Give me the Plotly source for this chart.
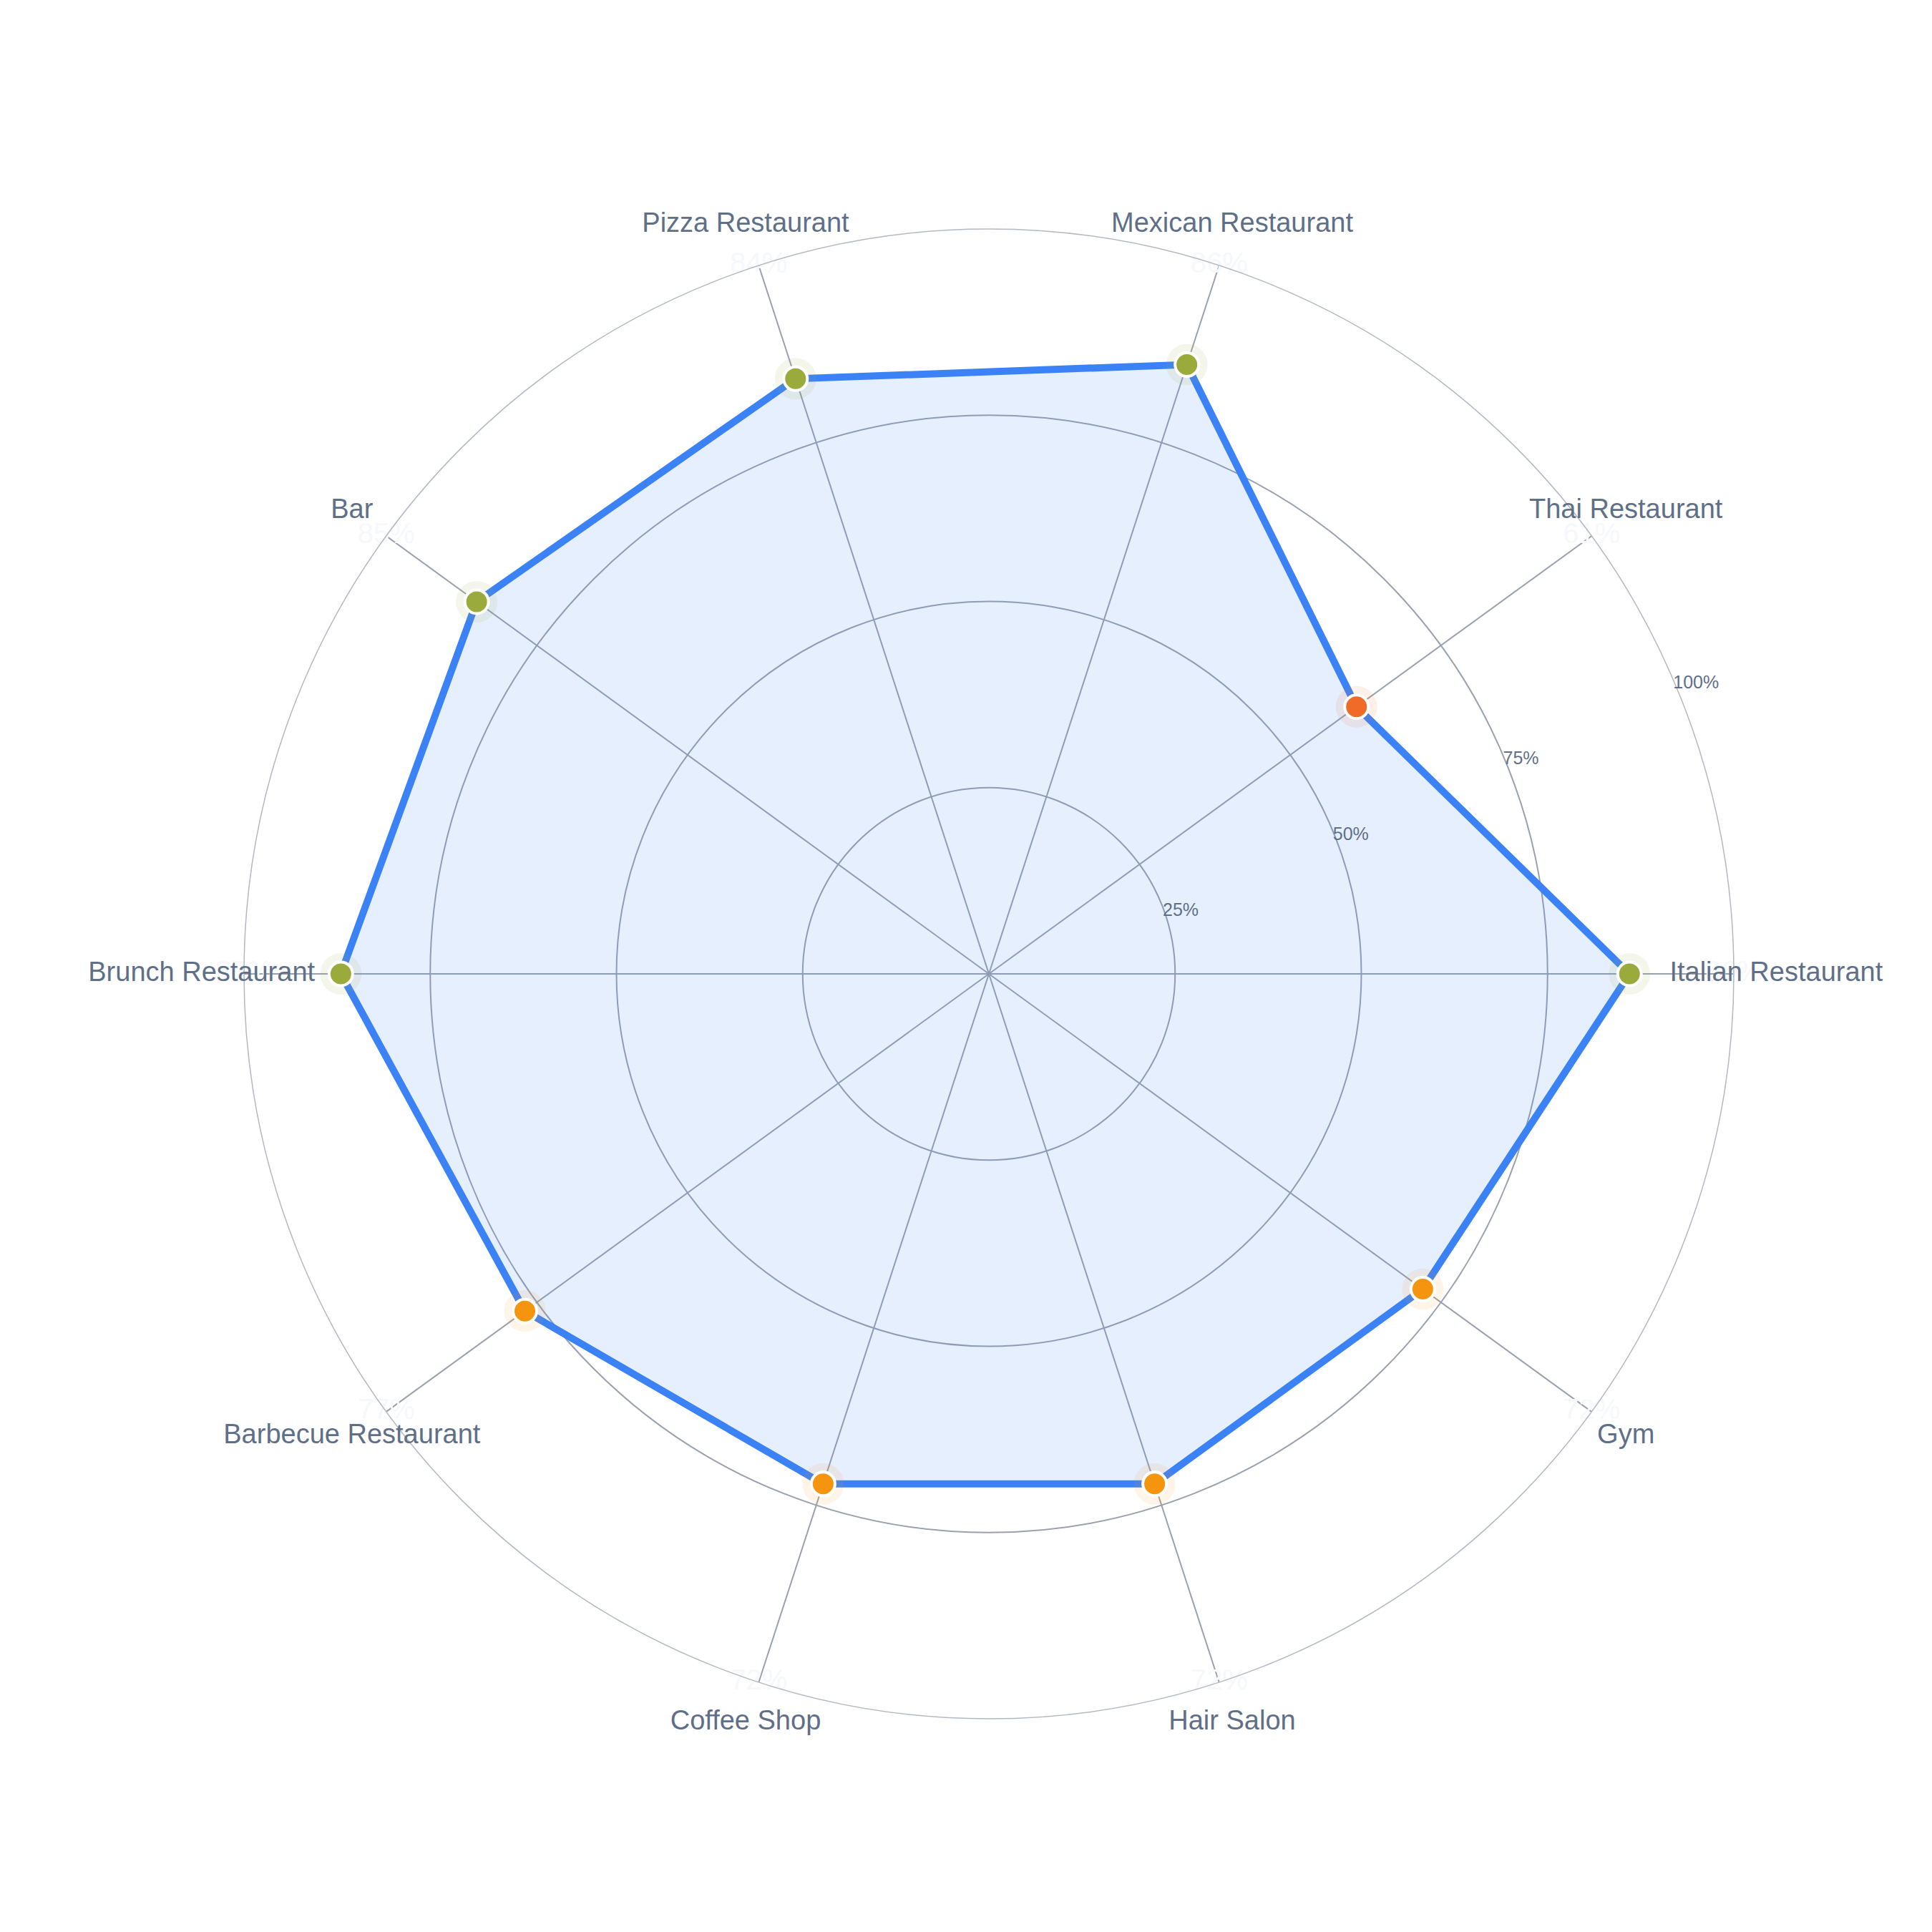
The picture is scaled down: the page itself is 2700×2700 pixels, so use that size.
import plotly.graph_objects as go

# Categories and their scores (percent)
categories = ['Italian Restaurant', 'Thai Restaurant', 'Mexican Restaurant', 'Pizza Restaurant', 'Bar',
              'Brunch Restaurant', 'Barbecue Restaurant', 'Coffee Shop', 'Hair Salon', 'Gym']
scores = [86, 61, 86, 84, 85, 87, 77, 72, 72, 72]
radial_ticks = [25, 50, 75, 100]
radial_tick_labels = ['25%', '50%', '75%', '100%']


# Pick a marker colour from the score
def score_color(v):
    if v >= 80:
        return '#9aaa3b'
    if v >= 70:
        return '#f5950f'
    return '#f06b27'


marker_colors = [score_color(v) for v in scores]
halo_colors = ['rgba(%d,%d,%d,0.1)' % tuple(int(c[i:i + 2], 16) for i in (1, 3, 5)) for c in marker_colors]

# close the polygon
theta_closed = categories + categories[:1]
r_closed = scores + scores[:1]

# layout geometry: plot area side and radius of the main polar (px)
side = 2400
radius = 1041
inner = radius / side
outer_range = 100 * (side / 2) / radius  # so r=100 lines up in both polars

fig = go.Figure()

# filled area + outline
fig.add_trace(go.Scatterpolar(
    r=r_closed, theta=theta_closed, mode='lines',
    line=dict(color='#3b82f6', width=10),
    fill='toself', fillcolor='rgba(59,130,246,0.13)',
    hoverinfo='skip', showlegend=False
))

# soft halo behind each point
fig.add_trace(go.Scatterpolar(
    r=scores, theta=categories, mode='markers',
    marker=dict(size=58, color=halo_colors),
    hoverinfo='skip', showlegend=False
))

# points
fig.add_trace(go.Scatterpolar(
    r=scores, theta=categories, mode='markers',
    marker=dict(size=33, color=marker_colors, line=dict(color='white', width=4)),
    showlegend=False
))

# faint value labels on the outer ring
fig.add_trace(go.Scatterpolar(
    r=[100] * len(categories), theta=categories, mode='text',
    text=['%d%%' % v for v in scores], textposition='middle center',
    textfont=dict(size=40, color='#f6f8fb', family='Liberation Sans, Arial'),
    hoverinfo='skip', showlegend=False, cliponaxis=False
))

# category labels just outside the ring (second, invisible polar so they are not clipped)
fig.add_trace(go.Scatterpolar(
    r=[105.7] * len(categories), theta=categories, mode='text',
    text=categories, textposition='middle center',
    textfont=dict(size=38, color='#5f6f88', family='Liberation Sans, Arial'),
    hoverinfo='skip', showlegend=False, subplot='polar2'
))

hidden_axis = dict(visible=False, showgrid=False, showline=False, showticklabels=False, ticks='')

fig.update_layout(
    width=2700, height=2700,
    margin=dict(l=174, r=126, t=153, b=147),
    paper_bgcolor='white',
    font=dict(family='Liberation Sans, Arial', color='#5f6f88'),
    polar=dict(
        domain=dict(x=[0.5 - inner, 0.5 + inner], y=[0.5 - inner, 0.5 + inner]),
        bgcolor='white',
        radialaxis=dict(
            range=[0, 100], tickvals=radial_ticks, ticktext=radial_tick_labels,
            angle=24, tickangle=24,
            showline=False, ticks='',
            gridcolor='#9aa1ad', gridwidth=2,
            tickfont=dict(size=25, color='#5f6f88')
        ),
        angularaxis=dict(
            direction='counterclockwise', rotation=0,
            showticklabels=False, ticks='',
            gridcolor='#9aa1ad', gridwidth=2,
            linecolor='#b3b8c1', linewidth=1.5
        )
    ),
    polar2=dict(
        domain=dict(x=[0, 1], y=[0, 1]),
        bgcolor='rgba(0,0,0,0)',
        radialaxis=dict(range=[0, outer_range], **hidden_axis),
        angularaxis=dict(direction='counterclockwise', rotation=0, **hidden_axis)
    )
)

fig.write_html("out.html")
